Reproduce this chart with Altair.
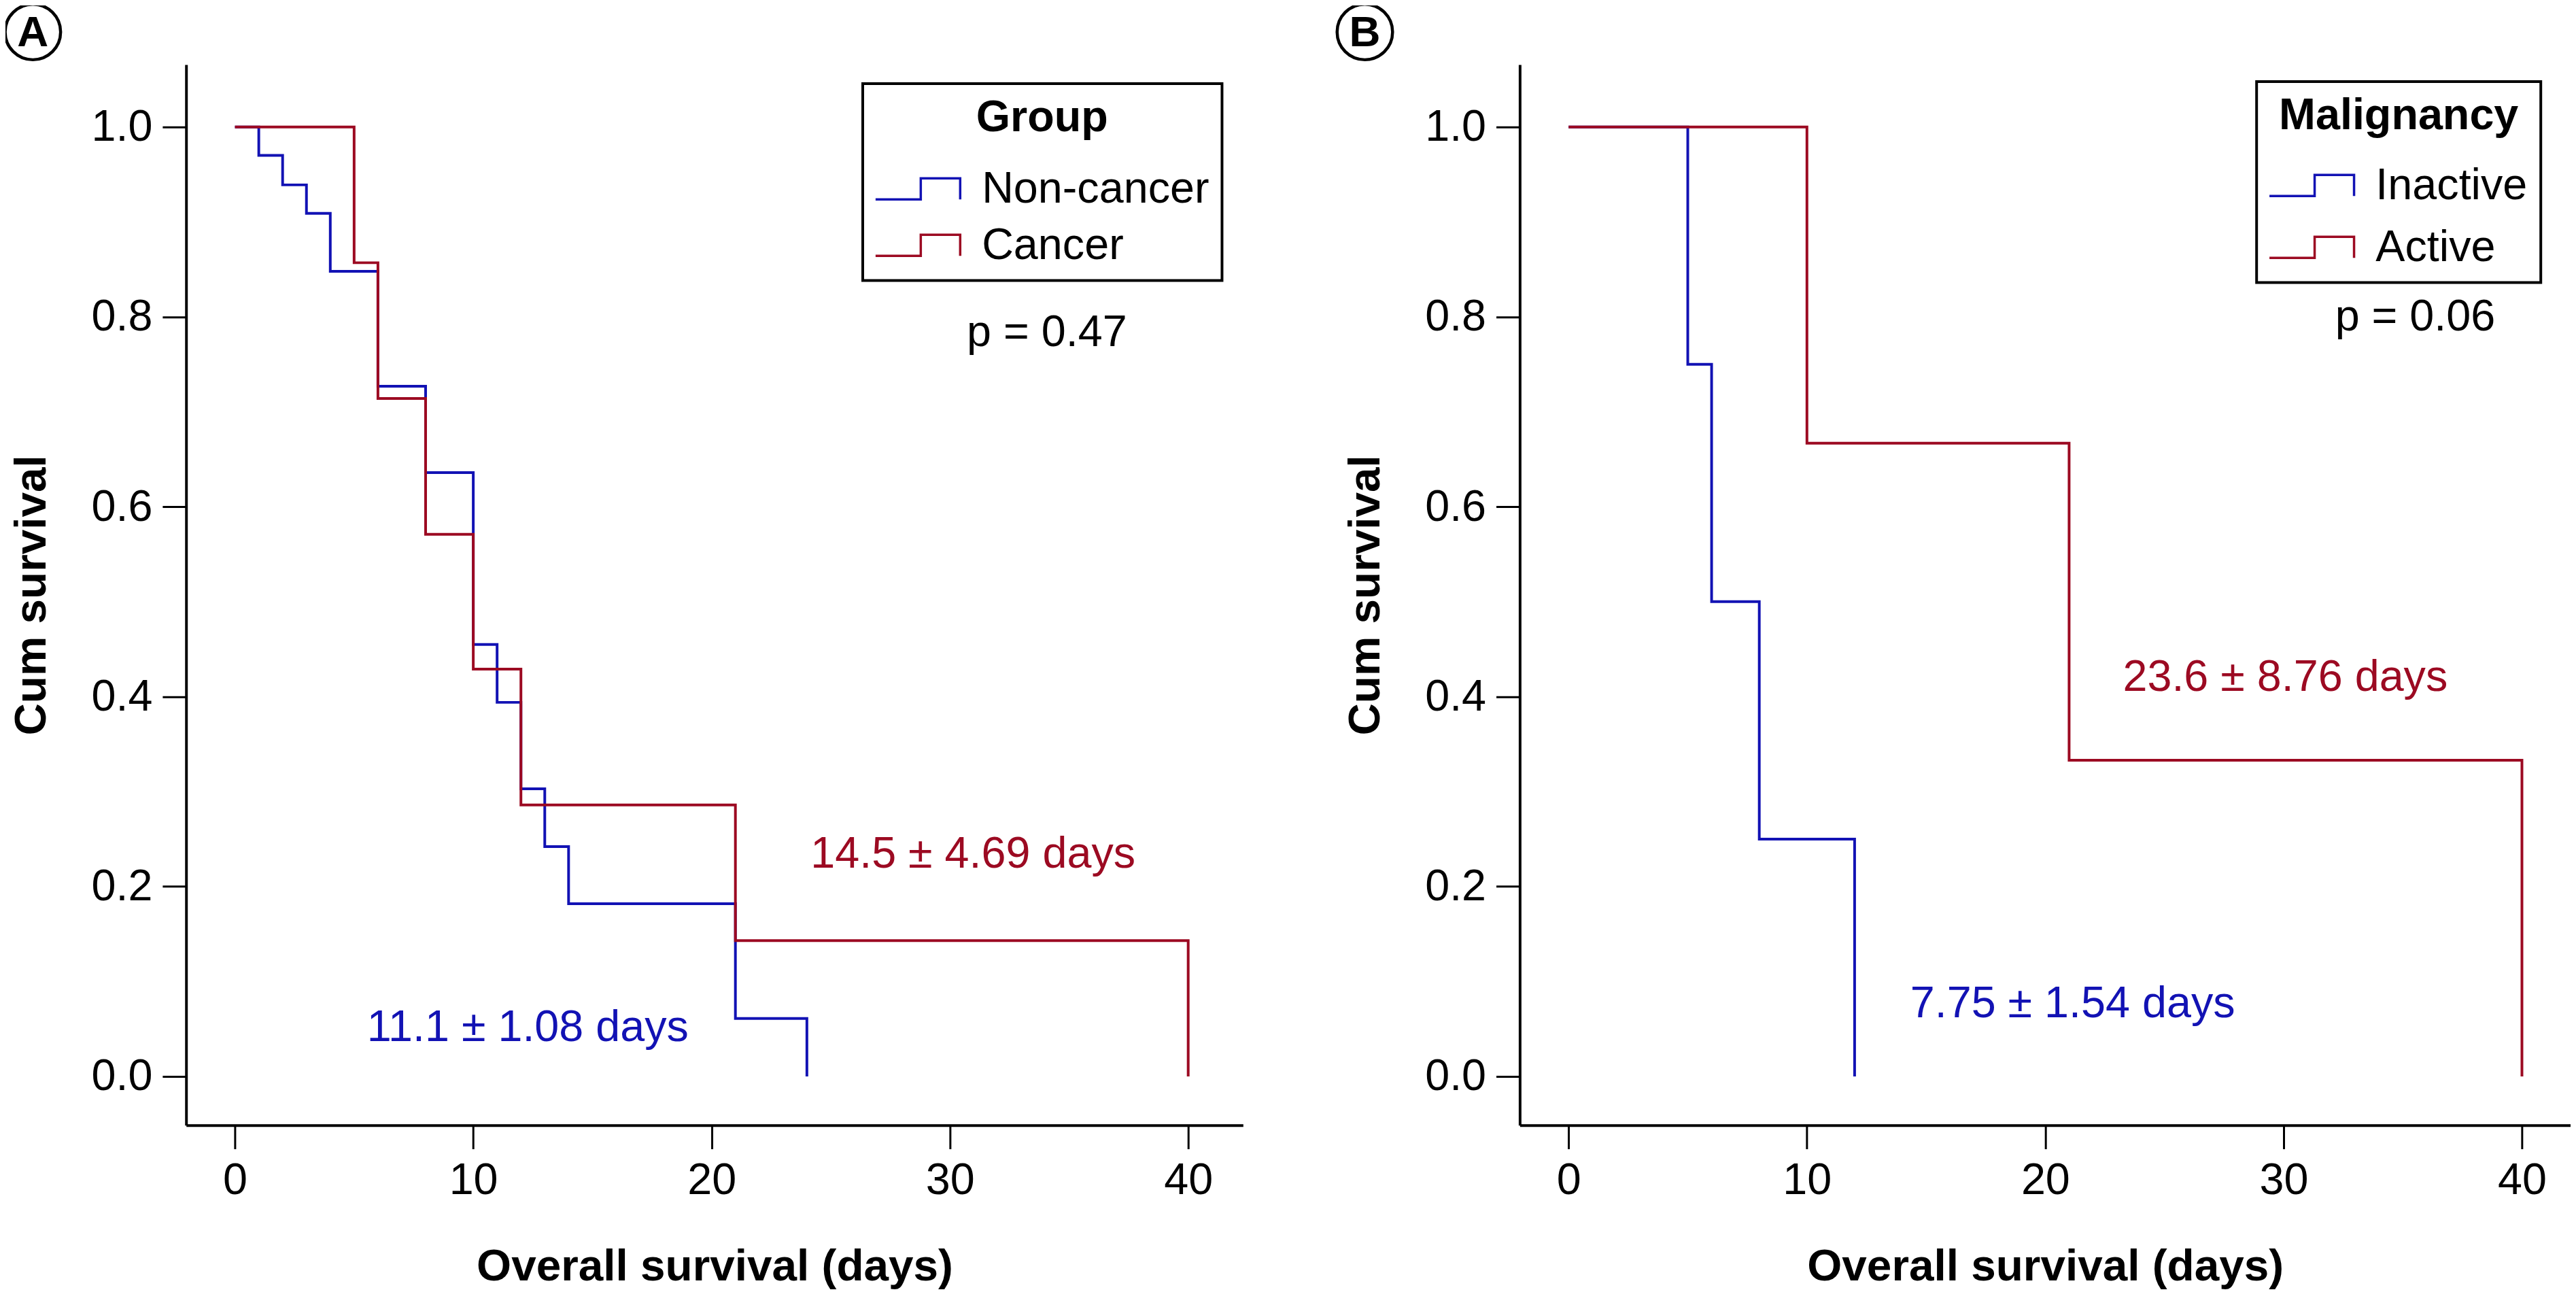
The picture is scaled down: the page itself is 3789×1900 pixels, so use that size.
import altair as alt
import pandas as pd

FONT = "Liberation Sans"
BLUE = "#1212B4"
RED = "#9C0A22"

# ---------------- Panel A data ----------------
a_groups = ["Non-cancer", "Cancer"]
a_noncancer_days = [0, 1, 2, 3, 4, 6, 8, 10, 11, 12, 13, 14, 21, 24]
a_noncancer_surv = [1.0, 0.970, 0.939, 0.909, 0.848, 0.727, 0.636, 0.455, 0.394, 0.303, 0.242, 0.182, 0.061, 0.0]
a_cancer_days = [0, 5, 6, 8, 10, 12, 21, 40]
a_cancer_surv = [1.0, 0.857, 0.714, 0.571, 0.429, 0.286, 0.143, 0.0]

a_note_text = ["14.5 ± 4.69 days", "11.1 ± 1.08 days", "p = 0.47"]
a_note_day = [30.97, 12.29, 34.07]
a_note_surv = [0.220, 0.037, 0.769]
a_note_color = [RED, BLUE, "black"]

# ---------------- Panel B data ----------------
b_groups = ["Inactive", "Active"]
b_inactive_days = [0, 5, 6, 8, 12]
b_inactive_surv = [1.0, 0.75, 0.5, 0.25, 0.0]
b_active_days = [0, 10, 21, 40]
b_active_surv = [1.0, 0.667, 0.333, 0.0]

b_note_text = ["23.6 ± 8.76 days", "7.75 ± 1.54 days", "p = 0.06"]
b_note_day = [30.07, 21.15, 35.52]
b_note_surv = [0.406, 0.062, 0.786]
b_note_color = [RED, BLUE, "black"]

x_ticks = [0, 10, 20, 30, 40]
y_ticks = [0.0, 0.2, 0.4, 0.6, 0.8, 1.0]

STEP = "M-2.05,0.51H0.14V-0.51H2.05V0.51"


def panel(series, groups, notes, letter, letter_day, xmax, width, ltitle, lx, ly, row_pad, title_pad):
    rows = []
    for g, days, surv in series:
        for d, s in zip(days, surv):
            rows.append({"group": g, "day": d, "surv": s})
    df = pd.DataFrame(rows)
    xs = alt.Scale(domain=[-2.05, xmax], nice=False, zero=False)
    ys = alt.Scale(domain=[-0.0513, 1.0656], nice=False, zero=False)
    x_axis = alt.Axis(values=x_ticks, title="Overall survival (days)", titleY=229,
                      titleBaseline="alphabetic", labelFlush=False)
    y_axis = alt.Axis(values=y_ticks, format=".1f", title="Cum survival", titleX=-208,
                      titleBaseline="alphabetic", titleAngle=270)
    lines = alt.Chart(df).mark_line(interpolate="step-after", strokeWidth=4, clip=True).encode(
        x=alt.X("day:Q", scale=xs, axis=x_axis),
        y=alt.Y("surv:Q", scale=ys, axis=y_axis),
        color=alt.Color("group:N", sort=groups,
                        scale=alt.Scale(domain=groups, range=[BLUE, RED]),
                        legend=alt.Legend(title=ltitle, orient="none", legendX=lx, legendY=ly,
                                          symbolType=STEP, symbolSize=3721, symbolStrokeWidth=3.5,
                                          symbolFillColor="transparent", symbolOffset=30,
                                          labelOffset=62,
                                          rowPadding=row_pad, titlePadding=title_pad,
                                          titleAnchor="middle", titleAlign="center")),
    )
    layers = [lines]
    for t, d, s, c in zip(*notes):
        ndf = pd.DataFrame({"day": [d], "surv": [s], "label": [t]})
        layers.append(alt.Chart(ndf).mark_text(align="center", baseline="alphabetic", fontSize=65,
                                               font=FONT, color=c).encode(
            x="day:Q", y="surv:Q", text="label:N"))
    cdf = pd.DataFrame({"day": [letter_day], "surv": [1.10], "label": [letter]})
    layers.append(alt.Chart(cdf).mark_point(shape="circle", size=6724, filled=False, strokeWidth=4.5,
                                            color="black", opacity=1, clip=False).encode(
        x="day:Q", y="surv:Q"))
    layers.append(alt.Chart(cdf).mark_text(align="center", baseline="middle", fontSize=64,
                                           fontWeight="bold", font=FONT, color="black", dy=2).encode(
        x="day:Q", y="surv:Q", text="label:N"))
    return alt.layer(*layers).properties(width=width, height=1567)


pa = panel([("Non-cancer", a_noncancer_days, a_noncancer_surv), ("Cancer", a_cancer_days, a_cancer_surv)],
           a_groups, (a_note_text, a_note_day, a_note_surv, a_note_color), "A", -8.48, 42.3, 1562,
           "Group", 1000, 28, 17.5, 39)
pb = panel([("Inactive", b_inactive_days, b_inactive_surv), ("Active", b_active_days, b_active_surv)],
           b_groups, (b_note_text, b_note_day, b_note_surv, b_note_color), "B", -8.55, 42.04, 1553,
           "Malignancy", 1089, 25, 25.5, 37)

chart = alt.hconcat(pa, pb, spacing=130).resolve_scale(
    color="independent", x="independent", y="independent").resolve_legend(color="independent").properties(
    padding={"left": -10, "top": -16, "right": 0, "bottom": 0}).configure_view(stroke=None).configure_axis(
    domainColor="black", domainWidth=4, tickColor="black", tickWidth=3, tickSize=35,
    labelFont=FONT, labelFontSize=65, labelColor="black", labelPadding=15,
    titleFont=FONT, titleFontSize=66, titleFontWeight="bold", titleColor="black", grid=False,
    labelOverlap=False).configure_legend(
    strokeColor="black", strokeWidth=4, padding=19, labelFont=FONT, labelFontSize=65, labelColor="black",
    titleFont=FONT, titleFontSize=65, titleFontWeight="bold", titleColor="black", labelLimit=1000,
    titleLimit=1000)

chart.save("out.html", embed_options={"renderer": "svg", "actions": False})
